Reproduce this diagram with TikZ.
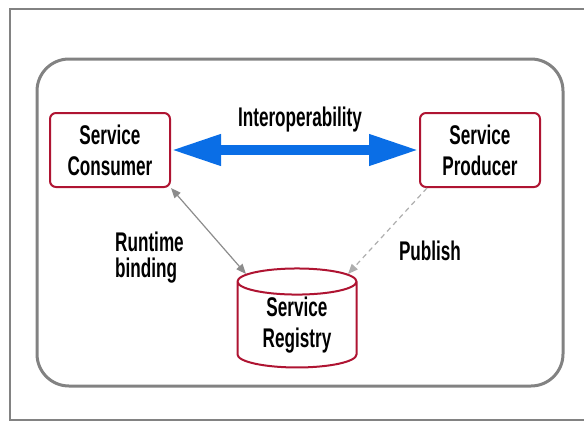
\documentclass[tikz,border=0pt]{standalone}
\usepackage{fontspec}
\newfontfamily\diagfont{Liberation Sans}[FakeStretch=0.635]
\usetikzlibrary{arrows.meta,shapes.geometric}
\definecolor{boxred}{RGB}{175,20,50}
\definecolor{flowblue}{RGB}{10,110,230}
\definecolor{framegray}{RGB}{130,130,130}
\definecolor{linkgray}{RGB}{140,140,140}

\begin{document}
\begin{tikzpicture}[x=1pt, y=-1pt,
    font=\diagfont\bfseries\fontsize{27}{31}\selectfont,
    svcbox/.style={draw=boxred, line width=2pt, rounded corners=6pt, fill=white,
      minimum width=120pt, minimum height=74pt, align=center, inner sep=0pt},
    lbl/.style={font=\diagfont\bfseries\fontsize{27}{26}\selectfont, align=left, inner sep=0pt},
    graytip/.tip={Triangle[length=10pt, width=8pt]}]
          \useasboundingbox (0,0) rectangle (584,423);
          \draw[framegray, line width=1.5pt] (584,9) -- (10,9) -- (10,420) -- (584,420);
          \draw[framegray, line width=3pt, rounded corners=32pt] (37,59) rectangle (563,386);
          %
          \node[svcbox] (cons) at (110,150) {Service\\Consumer};
          \node[svcbox] (prod) at (480,150) {Service\\Producer};
          \node[shape=cylinder, shape border rotate=90, draw=boxred, line width=2pt, fill=white,
            aspect=0.38, minimum width=119pt, minimum height=99pt, align=center, inner sep=0pt]
            (reg) at (297,325) {Service\\Registry};
          %
          \node[lbl, anchor=base] (inter) at (300,126) {Interoperability};
          \node[lbl, anchor=west] (bind) at (115,258) {Runtime\\binding};
          \node[lbl, anchor=base] (pub) at (430,260) {Publish};
          %
          \draw[flowblue, line width=10pt, {Triangle[length=50pt, width=29pt]}-{Triangle[length=50pt, width=29pt]}]
            (cons.east) -- (prod.west);
          \draw[linkgray, line width=1.2pt, graytip-graytip] (cons.south east) -- (reg.north west);
          \draw[linkgray!70, line width=1.2pt, dash pattern=on 5pt off 4pt, -graytip]
            ([xshift=8pt]prod.south west) -- (reg.north east);
        \end{tikzpicture}
\end{document}
